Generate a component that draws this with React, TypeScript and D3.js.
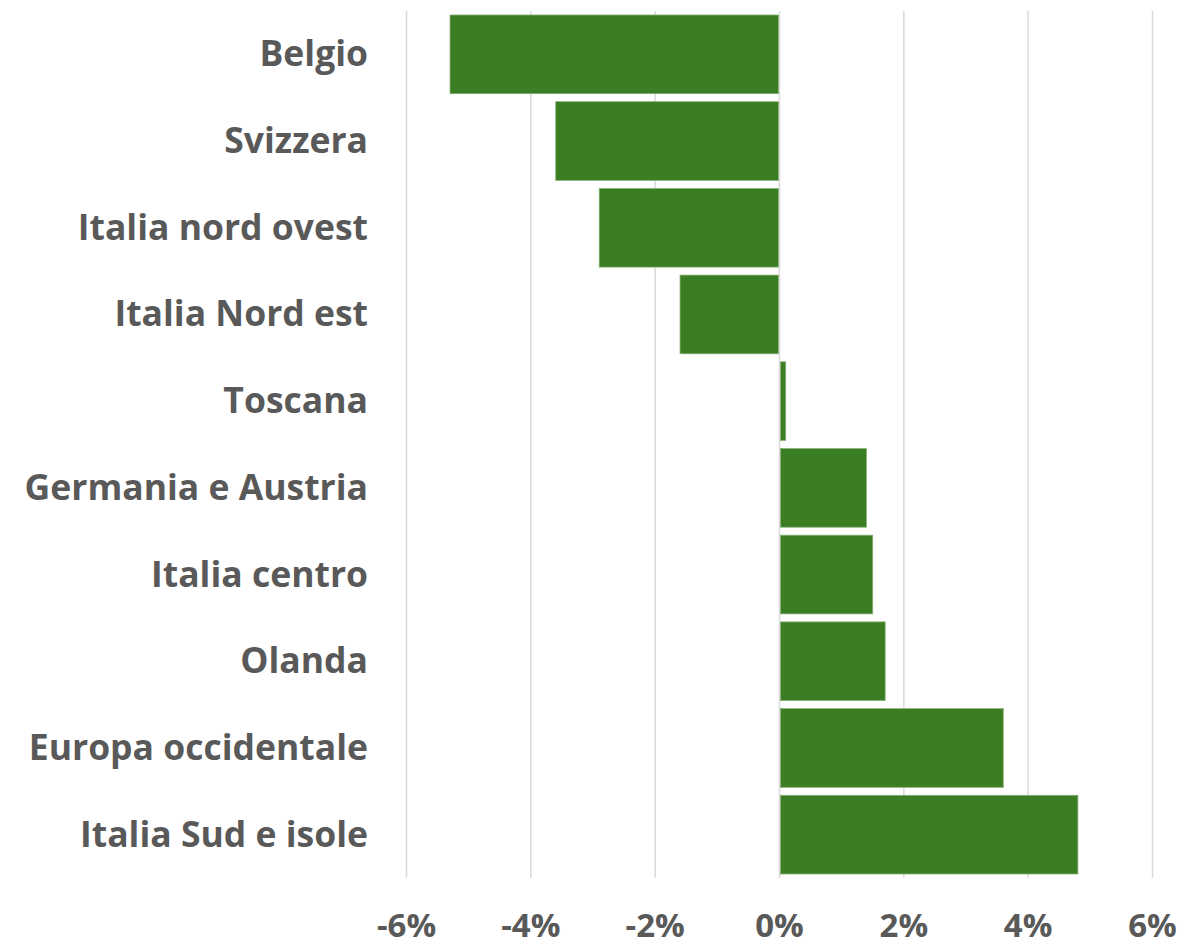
import React from "react";
import * as d3 from "d3";

const categories = [
  "Belgio",
  "Svizzera",
  "Italia nord ovest",
  "Italia Nord est",
  "Toscana",
  "Germania e Austria",
  "Italia centro",
  "Olanda",
  "Europa occidentale",
  "Italia Sud e isole",
];
const values = [-5.3, -3.6, -2.9, -1.6, 0.1, 1.4, 1.5, 1.7, 3.6, 4.8];
const tickValues = [-6, -4, -2, 0, 2, 4, 6];
const tickLabels = ["-6%", "-4%", "-2%", "0%", "2%", "4%", "6%"];

const W = 1181;
const H = 940;
const FONT = "'Open Sans', 'Liberation Sans', sans-serif";

export default function App() {
  const x = d3.scaleLinear().domain([-6, 6]).range([406.5, 1152.5]);
  const y = d3
    .scaleBand<string>()
    .domain(categories)
    .range([11, 878])
    .paddingInner(0.092)
    .paddingOuter(0.046);
  const data = categories.map((c, i) => ({ c, v: values[i] }));
  return (
    <svg
      width={W}
      height={H}
      style={{ position: "absolute", left: 0, top: 0, display: "block", background: "#fff" }}
    >
      {tickValues.map((t) => (
        <line
          key={t}
          x1={x(t)}
          x2={x(t)}
          y1={11}
          y2={878}
          stroke="#d9d9d9"
          strokeWidth={1.5}
        />
      ))}
      {data.map((d) => {
        const x0 = Math.min(x(0), x(d.v));
        const x1 = Math.max(x(0), x(d.v));
        return (
          <rect
            key={d.c}
            x={x0 + (d.v > 0 ? 1 : 0)}
            y={y(d.c)!}
            width={x1 - x0 - 1}
            height={y.bandwidth()}
            fill="#3b7d23"
            stroke="#8ab37a"
            strokeWidth={0.8}
          />
        );
      })}
      {categories.map((c) => (
        <text
          key={c}
          x={368}
          y={y(c)! + y.bandwidth() / 2 + 12}
          textAnchor="end"
          fontFamily={FONT}
          fontWeight="bold"
          fontSize={35.5}
          fill="#595959"
        >
          {c}
        </text>
      ))}
      {tickValues.map((t, i) => (
        <text
          key={t}
          x={x(t)}
          y={937}
          textAnchor="middle"
          fontFamily={FONT}
          fontWeight="bold"
          fontSize={33}
          fill="#595959"
        >
          {tickLabels[i]}
        </text>
      ))}
    </svg>
  );
}
